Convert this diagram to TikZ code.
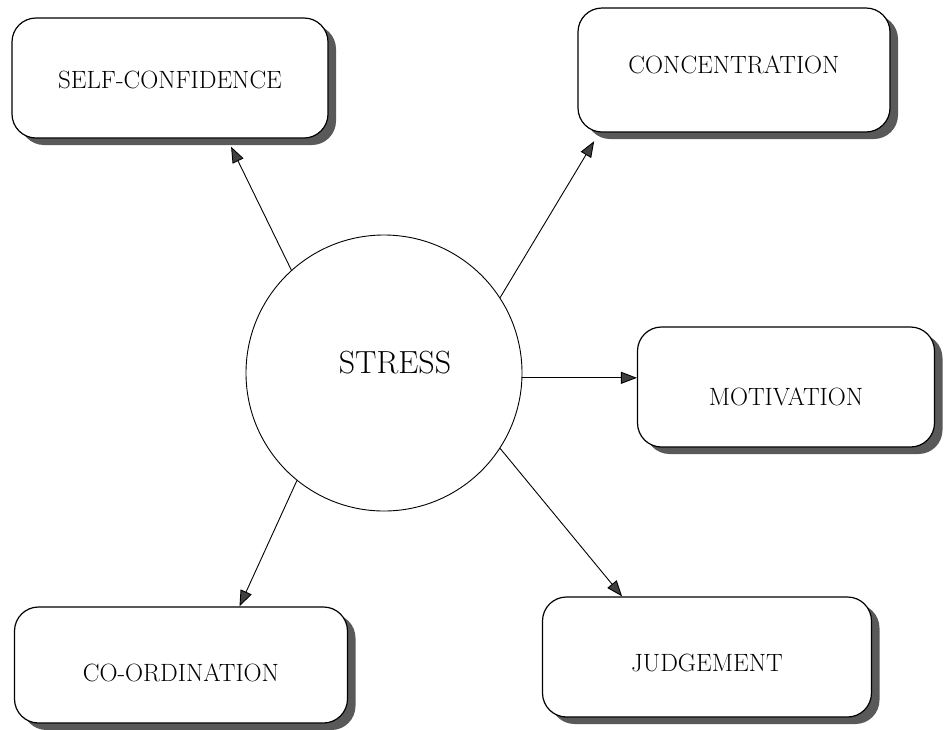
\documentclass[tikz,border=0pt]{standalone}
\usepackage{tikz}
\usetikzlibrary{arrows.meta,calc,shadows}
\tikzset{
  effect/.style={
    draw=black,
    line width=1.2pt,
    rounded corners=24pt,
    fill=white,
    minimum width=316pt,
    minimum height=120pt,
    inner sep=0pt,
    text depth=0pt,
    text height=21pt,
    font=\fontsize{25}{28}\selectfont,
    drop shadow={shadow xshift=8pt, shadow yshift=-7pt, fill=black!65, opacity=1}
  },
  cause/.style={
    circle,
    draw=black,
    line width=0.9pt,
    fill=white,
    minimum size=276pt,
    inner sep=0pt,
    text depth=0pt,
    text height=0pt,
    font=\fontsize{32}{36}\selectfont
  },
  connection/.style={
    line width=0.9pt,
    -{Triangle[length=16pt,width=12pt,fill=black!75]}
  }
}

\begin{document}
\begin{tikzpicture}[x=1pt, y=-1pt]
  % page the size of the scanned figure, y counts downwards
  \useasboundingbox (0,0) rectangle (944,729);

  \node[cause] (stress) at (384,373) {\hspace*{22pt}STRESS};

  \node[effect] (selfconf) at (170,78) {SELF-CONFIDENCE};
  \node[effect, minimum width=312pt, minimum height=124pt, text height=7pt] (concentration) at (734,70) {CONCENTRATION};
  \node[effect, minimum width=297pt, text height=37pt] (motivation) at (786,387) {MOTIVATION};
  \node[effect, minimum width=333pt, minimum height=116pt, text height=33pt] (coordination) at (181,665) {CO-ORDINATION};
  \node[effect, minimum width=329pt, text height=29pt] (judgement) at (707,657) {JUDGEMENT};

  % arrows leave the circle and stop at the box edges
  \draw[connection, shorten >=9pt] (stress.132) -- ($(selfconf.south west)!0.68!(selfconf.south east)$);
  \draw[connection, shorten >=10pt] (stress.33) -- ($(concentration.south west)!0.07!(concentration.south east)$);
  \draw[connection] (stress.-2) -- (stress.-2 -| motivation.west);
  \draw[connection] (stress.-129) -- ($(coordination.north west)!0.675!(coordination.north east)$);
  \draw[connection] (stress.-33) -- ($(judgement.north west)!0.243!(judgement.north east)$);
\end{tikzpicture}
\end{document}
